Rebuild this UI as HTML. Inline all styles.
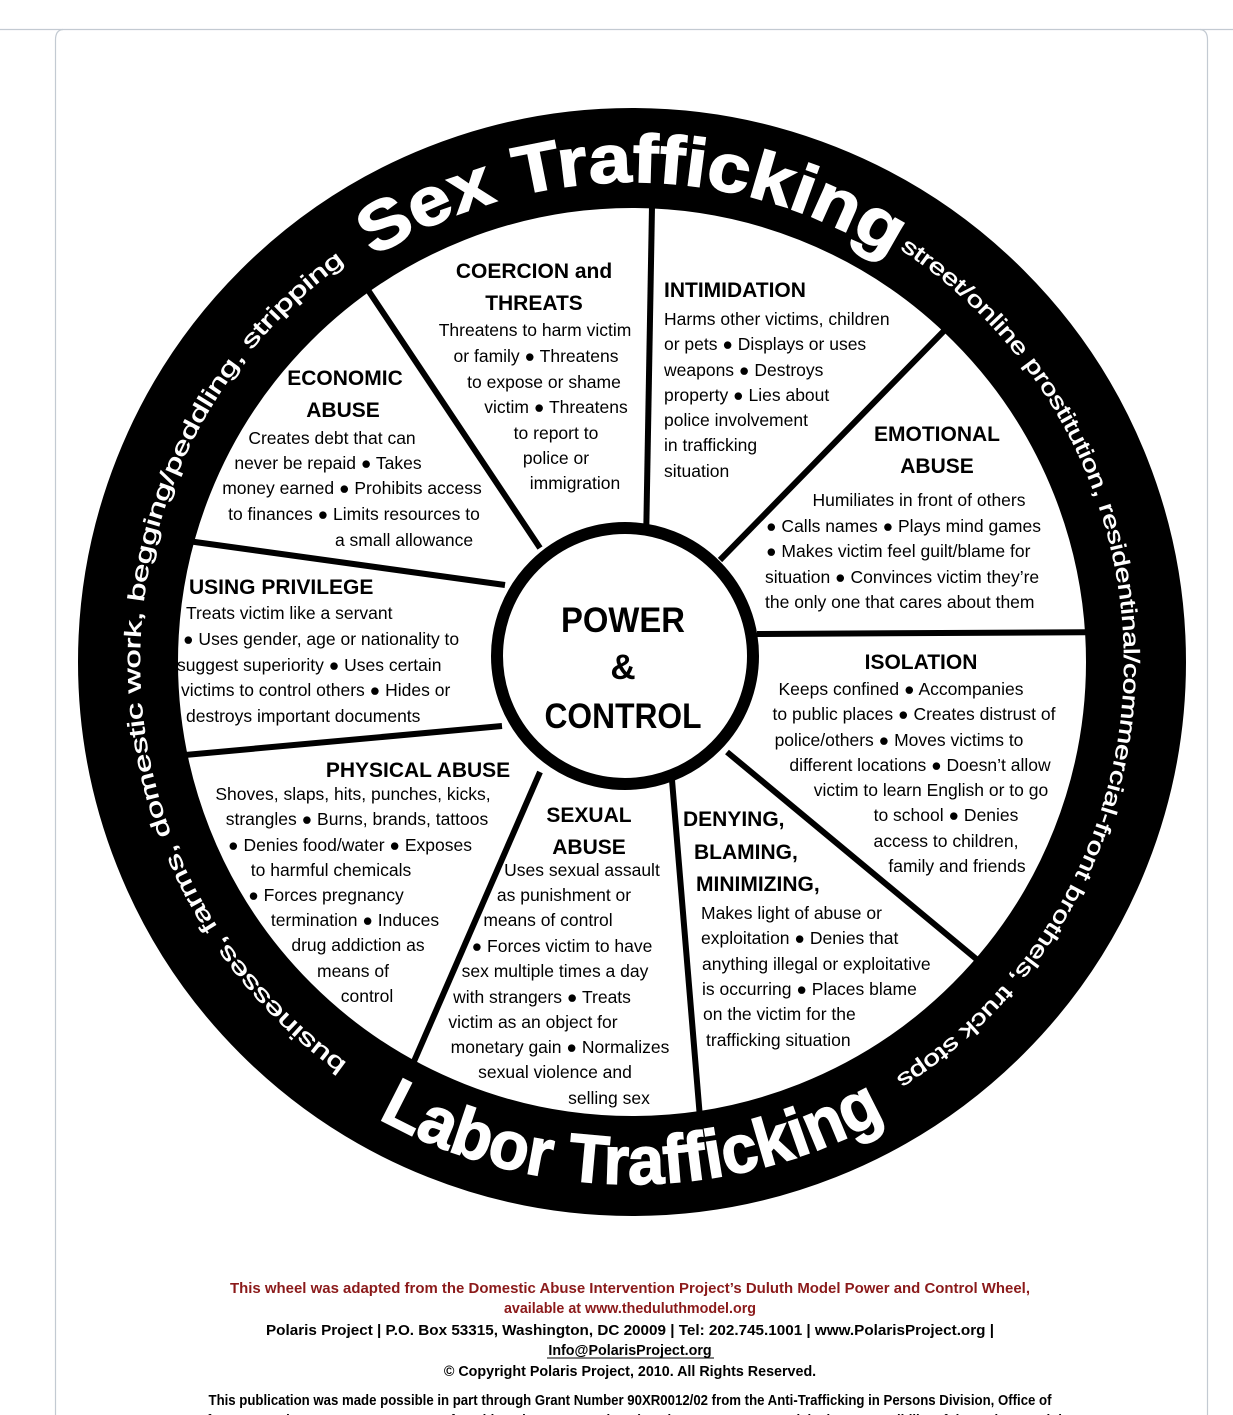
<!DOCTYPE html>
<html><head><meta charset="utf-8"><style>
html,body{margin:0;padding:0;background:#fff;}
svg{display:block;}
.b{font-family:"Liberation Sans",sans-serif;font-size:17.5px;fill:#000;}
.h{font-family:"Liberation Sans",sans-serif;font-size:21px;font-weight:bold;fill:#000;}
.m{text-anchor:middle;}
.f{font-family:"Liberation Sans",sans-serif;font-size:14.3px;font-weight:bold;text-anchor:middle;}
</style></head><body>
<svg width="1233" height="1415" viewBox="0 0 1233 1415" xmlns="http://www.w3.org/2000/svg">
<rect width="1233" height="1415" fill="#fff"/>
<line x1="0" y1="29.5" x2="1233" y2="29.5" stroke="#c3cad2" stroke-width="1.2"/>
<path d="M55.5,1415 V40 Q55.5,30 63,29.5 M1207.5,1415 V40 Q1207.5,30 1200,29.5" fill="none" stroke="#c3cad2" stroke-width="1.2"/>
<defs>
<path id="sex" d="M356.7,268.8 A480,480 0 0,1 907.3,268.8"/>
<path id="rt" d="M882,229 A500,500 0 0,1 866.8,1103.5"/>
<path id="lt" d="M382,1095 A500,500 0 0,1 382,229"/>
<path id="lab" d="M332.6,1089.6 A522,522 0 0,0 931.4,1089.6"/>
</defs>
<g stroke="#000" stroke-width="6" stroke-linecap="butt">
<line x1="653" y1="150" x2="646" y2="545"/>
<line x1="340" y1="248" x2="540" y2="548"/>
<line x1="980" y1="294" x2="720" y2="560"/>
<line x1="130" y1="533" x2="505" y2="585"/>
<line x1="1130" y1="632" x2="757" y2="634"/>
<line x1="130" y1="760" x2="502" y2="726"/>
<line x1="1010" y1="987" x2="727" y2="752"/>
<line x1="540" y1="772" x2="395" y2="1105"/>
<line x1="672" y1="780" x2="701" y2="1130"/>
</g>
<circle cx="632" cy="662" r="504" fill="none" stroke="#000" stroke-width="100"/>
<circle cx="625" cy="656" r="128" fill="#fff" stroke="#000" stroke-width="12"/>
<text class="h m" x="623" y="632" style="font-size:35px" textLength="124" lengthAdjust="spacingAndGlyphs">POWER</text>
<text class="h m" x="623" y="679" style="font-size:35px">&amp;</text>
<text class="h m" x="623" y="728" style="font-size:35px" textLength="157" lengthAdjust="spacingAndGlyphs">CONTROL</text>

<text font-family="Liberation Sans,sans-serif" font-weight="bold" font-size="68" fill="#fff" stroke="#fff" stroke-width="1.5"><textPath href="#sex" startOffset="50%" text-anchor="middle" textLength="545" lengthAdjust="spacingAndGlyphs">Sex Trafficking</textPath></text>
<text font-family="Liberation Sans,sans-serif" font-weight="bold" font-size="68" fill="#fff" stroke="#fff" stroke-width="1.5"><textPath href="#lab" startOffset="50%" text-anchor="middle" textLength="530" lengthAdjust="spacingAndGlyphs">Labor Trafficking</textPath></text>
<text font-family="Liberation Sans,sans-serif" font-size="22" fill="#fff" stroke="#fff" stroke-width="0.5" dy="8"><textPath href="#rt" startOffset="26" textLength="1000" lengthAdjust="spacingAndGlyphs">street/online prostitution, residentinal/commercial-front brothels, truck stops</textPath></text>
<text font-family="Liberation Sans,sans-serif" font-size="23" fill="#fff" stroke="#fff" stroke-width="0.5" dy="8"><textPath href="#lt" startOffset="47" textLength="950" lengthAdjust="spacingAndGlyphs">businesses, farms, domestic work, begging/peddling, stripping</textPath></text>

<text class="h m" x="534" y="278">COERCION and</text>
<text class="h m" x="534" y="310">THREATS</text>
<g class="b m">
<text x="535" y="336">Threatens to harm victim</text>
<text x="536" y="362">or family ● Threatens</text>
<text x="544" y="388">to expose or shame</text>
<text x="556" y="413">victim ● Threatens</text>
<text x="556" y="439">to report to</text>
<text x="556" y="464">police or</text>
<text x="575" y="489">immigration</text>
</g>
<text class="h" x="664" y="297">INTIMIDATION</text>
<g class="b">
<text x="664" y="325">Harms other victims, children</text>
<text x="664" y="350">or pets ● Displays or uses</text>
<text x="664" y="376">weapons ● Destroys</text>
<text x="664" y="401">property ● Lies about</text>
<text x="664" y="426">police involvement</text>
<text x="664" y="451">in trafficking</text>
<text x="664" y="477">situation</text>
</g>
<text class="h m" x="937" y="441">EMOTIONAL</text>
<text class="h m" x="937" y="473">ABUSE</text>
<g class="b">
<text class="m" x="919" y="506">Humiliates in front of others</text>
<text x="766" y="532">● Calls names ● Plays mind games</text>
<text x="766" y="557">● Makes victim feel guilt/blame for</text>
<text x="765" y="583">situation ● Convinces victim they’re</text>
<text x="765" y="608">the only one that cares about them</text>
</g>
<text class="h m" x="345" y="385">ECONOMIC</text>
<text class="h m" x="343" y="417">ABUSE</text>
<g class="b m">
<text x="332" y="444">Creates debt that can</text>
<text x="328" y="469">never be repaid ● Takes</text>
<text x="352" y="494">money earned ● Prohibits access</text>
<text x="354" y="520">to finances ● Limits resources to</text>
<text x="404" y="546">a small allowance</text>
</g>
<text class="h" x="189" y="594">USING PRIVILEGE</text>
<g class="b">
<text x="186" y="619">Treats victim like a servant</text>
<text x="183" y="645">● Uses gender, age or nationality to</text>
<text x="177" y="671">suggest superiority ● Uses certain</text>
<text x="181" y="696">victims to control others ● Hides or</text>
<text x="186" y="722">destroys important documents</text>
</g>
<text class="h m" x="921" y="669">ISOLATION</text>
<g class="b m">
<text x="901" y="695">Keeps confined ● Accompanies</text>
<text x="914" y="720">to public places ● Creates distrust of</text>
<text x="899" y="746">police/others ● Moves victims to</text>
<text x="920" y="771">different locations ● Doesn’t allow</text>
<text x="931" y="796">victim to learn English or to go</text>
<text x="946" y="821">to school ● Denies</text>
<text x="946" y="847">access to children,</text>
<text x="957" y="872">family and friends</text>
</g>
<text class="h m" x="418" y="777">PHYSICAL ABUSE</text>
<g class="b m">
<text x="353" y="800">Shoves, slaps, hits, punches, kicks,</text>
<text x="357" y="825">strangles ● Burns, brands, tattoos</text>
<text x="350" y="851">● Denies food/water ● Exposes</text>
<text x="331" y="876">to harmful chemicals</text>
<text x="326" y="901">● Forces pregnancy</text>
<text x="355" y="926">termination ● Induces</text>
<text x="358" y="951">drug addiction as</text>
<text x="353" y="977">means of</text>
<text x="367" y="1002">control</text>
</g>
<text class="h m" x="589" y="822">SEXUAL</text>
<text class="h m" x="589" y="854">ABUSE</text>
<g class="b m">
<text x="582" y="876">Uses sexual assault</text>
<text x="564" y="901">as punishment or</text>
<text x="548" y="926">means of control</text>
<text x="562" y="952">● Forces victim to have</text>
<text x="555" y="977">sex multiple times a day</text>
<text x="542" y="1003">with strangers ● Treats</text>
<text x="533" y="1028">victim as an object for</text>
<text x="560" y="1053">monetary gain ● Normalizes</text>
<text x="555" y="1078">sexual violence and</text>
<text x="609" y="1104">selling sex</text>
</g>
<text class="h" x="683" y="826">DENYING,</text>
<text class="h" x="694" y="859">BLAMING,</text>
<text class="h" x="696" y="891">MINIMIZING,</text>
<g class="b">
<text x="701" y="919">Makes light of abuse or</text>
<text x="701" y="944">exploitation ● Denies that</text>
<text x="702" y="970">anything illegal or exploitative</text>
<text x="702" y="995">is occurring ● Places blame</text>
<text x="703" y="1020">on the victim for the</text>
<text x="706" y="1046">trafficking situation</text>
</g>

<text class="f" x="630" y="1293" fill="#8b1a1a" textLength="800" lengthAdjust="spacingAndGlyphs">This wheel was adapted from the Domestic Abuse Intervention Project’s Duluth Model Power and Control Wheel,</text>
<text class="f" x="630" y="1313" fill="#8b1a1a">available at www.theduluthmodel.org</text>
<text class="f" x="630" y="1335" fill="#000" textLength="728" lengthAdjust="spacingAndGlyphs">Polaris Project | P.O. Box 53315, Washington, DC 20009 | Tel: 202.745.1001 | www.PolarisProject.org |</text>
<text class="f" x="630" y="1355" fill="#000">Info@PolarisProject.org</text>
<line x1="547" y1="1358" x2="714" y2="1358" stroke="#000" stroke-width="1"/>
<text class="f" x="630" y="1376" fill="#000">© Copyright Polaris Project, 2010. All Rights Reserved.</text>
<text class="f" x="630" y="1405" fill="#000" textLength="843" lengthAdjust="spacingAndGlyphs">This publication was made possible in part through Grant Number 90XR0012/02 from the Anti-Trafficking in Persons Division, Office of</text>
<text class="f" x="630" y="1425" fill="#000" textLength="880" lengthAdjust="spacingAndGlyphs">Refugee Resettlement, U.S. Department of Health and Human Services (HHS). Its contents are solely the responsibility of the authors and do</text>
</svg>
</body></html>
